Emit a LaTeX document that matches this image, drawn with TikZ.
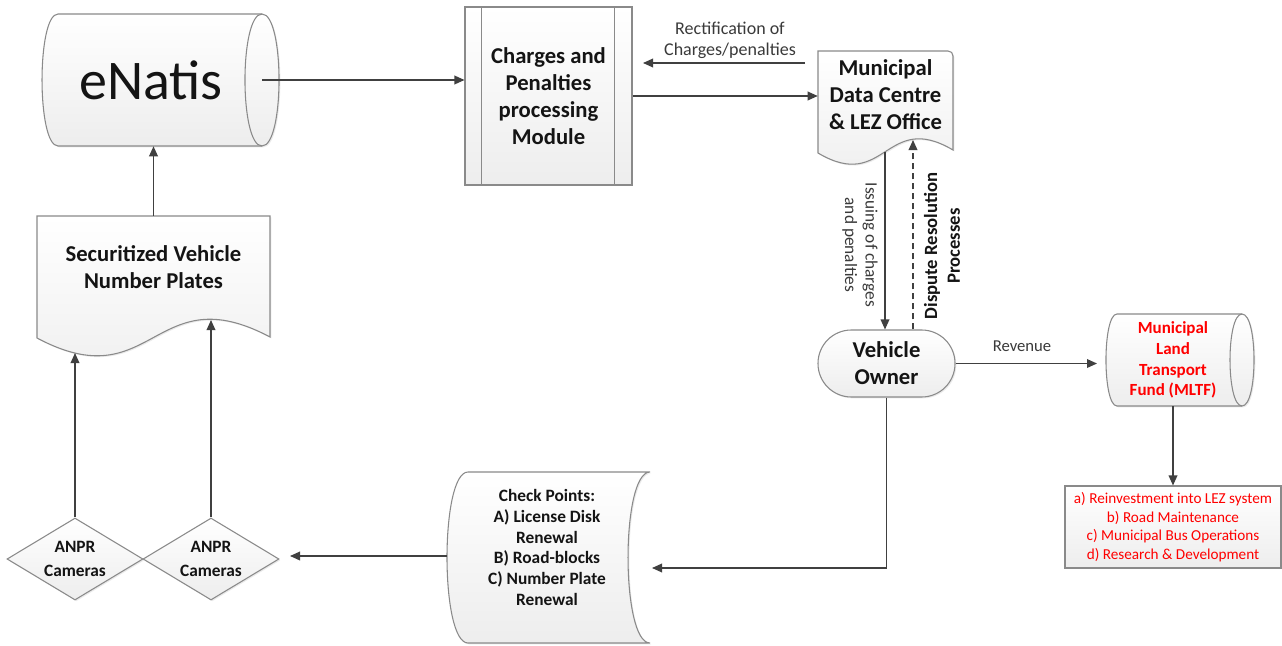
\documentclass[tikz,border=0pt]{standalone}
\usepackage{fontspec}
\setmainfont{Carlito}
\usetikzlibrary{arrows.meta,shapes.geometric,shadows,calc}
\definecolor{lineC}{HTML}{404040}
\definecolor{edgeC}{HTML}{8A8A8A}
\definecolor{txtC}{HTML}{141414}
\definecolor{lblC}{HTML}{3A3A3A}
\begin{document}
\begin{tikzpicture}[x=0.75pt,y=-0.75pt,
  shp/.style={draw=edgeC, line width=0.8pt, top color=white, bottom color=black!7,
    drop shadow={shadow xshift=1pt, shadow yshift=-1pt, opacity=0.2, fill=black!40}},
  edgeline/.style={draw=edgeC, line width=0.8pt},
  arr/.style={draw=lineC, line width=1pt, -{Triangle[length=7.5pt,width=6.5pt]}},
  bigtxt/.style={font=\fontsize{17}{20.3}\selectfont\bfseries, text=txtC, align=center},
  lbl/.style={font=\fontsize{13}{15.5}\selectfont, text=lblC, align=center, inner sep=1pt},
  redtxt/.style={text=red, align=center},
  camtxt/.style={font=\fontsize{13}{17.5}\selectfont\bfseries, text=txtC, align=center}
]
\useasboundingbox (0,0) rectangle (1282,646);
\fill[white] (0,0) rectangle (1282,646);

% eNatis (horizontal cylinder)
\path[shp] (58,14) -- (262,14) .. controls (284.7,14) and (284.7,146) .. (262,146)
  -- (58,146) .. controls (36.7,146) and (36.7,14) .. (58,14) -- cycle;
\draw[edgeline] (262,14) .. controls (239.3,14) and (239.3,146) .. (262,146);
\node[minimum width=150pt, minimum height=99pt, inner sep=0,
  font=\fontsize{42}{46}\selectfont, text=txtC] (enatis) at (151,80) {eNatis};
\coordinate (enport) at (262,80);

% Charges and Penalties processing Module
\node[shp, bigtxt, minimum width=125.25pt, minimum height=133.5pt, inner sep=0]
  (module) at (548.5,96) {Charges and\\Penalties\\processing\\Module};
\draw[edgeline] ([xshift=12.75pt]module.north west) -- ([xshift=12.75pt]module.south west);
\draw[edgeline] ([xshift=-13.5pt]module.north east) -- ([xshift=-13.5pt]module.south east);

% Municipal Data Centre (document)
\path[shp] (818,51) -- (948,51) .. controls (951,51) and (953,53) .. (953,56) -- (953,150)
  .. controls (885.5,110) and (885.5,193) .. (818,153) -- cycle;
\node[bigtxt, minimum width=101.25pt, inner sep=0] (mdc) at (885.5,95)
  {Municipal\\Data Centre\\\& LEZ Office};

% Securitized Vehicle Number Plates (document)
\path[shp] (37,216) -- (270,216) -- (270,337)
  .. controls (153.5,275) and (153.5,400) .. (37,338) -- cycle;
\node[bigtxt, minimum width=174.75pt, minimum height=76.5pt, inner sep=0] (sec) at (153.5,267)
  {Securitized Vehicle\\Number Plates};
\coordinate (secA) at (75,353);
\coordinate (secB) at (211,320);

% Vehicle Owner (terminator)
\node[shp, bigtxt, rounded corners=25pt, minimum width=102.75pt, minimum height=50.25pt, inner sep=0]
  (vo) at (886.5,363.5) {Vehicle\\Owner};

% MLTF (horizontal cylinder)
\path[shp] (1117,314) -- (1242,314) .. controls (1258,314) and (1258,406) .. (1242,406)
  -- (1117,406) .. controls (1102.3,406) and (1102.3,314) .. (1117,314) -- cycle;
\draw[edgeline] (1242,314) .. controls (1226,314) and (1226,406) .. (1242,406);
\node[redtxt, font=\fontsize{12.75}{15.5}\selectfont\bfseries, minimum height=69pt, inner sep=0]
  (mltf) at (1173,360) {Municipal\\Land\\Transport\\Fund (MLTF)};

% list of uses
\node[shp, redtxt, font=\fontsize{11.4}{14}\selectfont, minimum width=162pt, minimum height=61.5pt, inner sep=0]
  (list) at (1173,527) {a) Reinvestment into LEZ system\\b) Road Maintenance\\c) Municipal Bus Operations\\d) Research \& Development};

% Check Points (stored data)
\path[shp] (468,472) -- (650,472) .. controls (620.7,472) and (620.7,643) .. (650,643)
  -- (468,643) .. controls (440,643) and (440,472) .. (468,472) -- cycle;
\node[font=\fontsize{13}{15.5}\selectfont\bfseries, text=txtC, align=center, inner sep=0]
  (cp) at (547,547.5) {Check Points:\\A) License Disk\\Renewal\\B) Road-blocks\\C) Number Plate\\Renewal};
\coordinate (cpport) at (652,568);
\coordinate (cpL) at (447,556);

% ANPR cameras
\node[shp, diamond, aspect=1.66, minimum width=102pt, minimum height=61.5pt, inner sep=0, camtxt]
  (cam1) at (75,559) {ANPR\\Cameras};
\node[shp, diamond, aspect=1.66, minimum width=102pt, minimum height=61.5pt, inner sep=0, camtxt]
  (cam2) at (211,559) {ANPR\\Cameras};
\coordinate (cam2port) at (290,556);

% connectors
\draw[arr] (sec.north) -- (sec.north |- enatis.south);
\draw[arr] (enport) -- (enport -| module.west);
\draw[arr] (module.east) -- (module.east -| mdc.west);
\coordinate (rs) at (805,63);
\coordinate (re) at (643,63);
\draw[arr] (rs) -- (re);
\node[lbl, font=\fontsize{13.5}{16}\selectfont] (lblRect) at (730,40) {Rectification of\\Charges/penalties};

\coordinate (mdcA) at (885,152);
\coordinate (mdcB) at (913,140);
\draw[arr] (mdcA) -- (mdcA |- vo.north);
\draw[arr, dash pattern=on 4.5pt off 3pt] (vo.north -| mdcB) -- (mdcB);
\node[lbl, rotate=-90] (lblIssue) at (860,245) {Issuing of charges\\and penalties};
\node[font=\fontsize{14}{17}\selectfont\bfseries, text=txtC, align=center, rotate=90] (lblDispute) at (942,246)
  {Dispute Resolution\\Processes};

\coordinate (mltfport) at (1097,363.5);
\draw[arr] (vo.east) -- (mltfport);
\node[lbl, font=\fontsize{12.5}{15}\selectfont] (lblRev) at (1022,346) {Revenue};
\draw[arr] (mltf.south) -- (list.north);
\draw[arr] (vo.south) |- (cpport);
\draw[arr] (cpL) -- (cam2port);
\draw[arr] (cam1.north) -- (secA);
\draw[arr] (cam2.north) -- (secB);
\end{tikzpicture}
\end{document}
